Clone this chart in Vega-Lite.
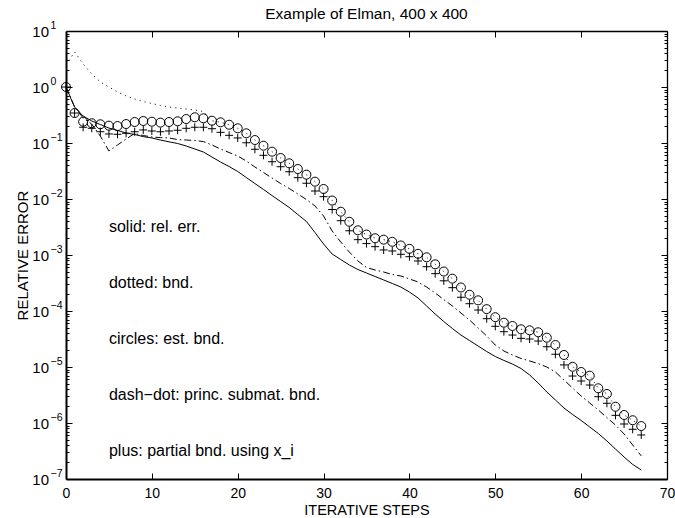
{
  "$schema": "https://vega.github.io/schema/vega-lite/v6.json",
  "width": 601,
  "height": 448,
  "autosize": "none",
  "padding": {"left": 66, "top": 31, "right": 8, "bottom": 39},
  "background": "white",
  "config": {
    "font": "Liberation Sans",
    "view": {"stroke": null},
    "axis": {"grid": false, "labelColor": "black", "tickColor": "black", "domainColor": "black", "titleColor": "black", "labelFont": "Liberation Sans", "titleFont": "Liberation Sans", "titleFontWeight": "normal"}
  },
  "title": {"text": "Example of Elman, 400 x 400", "fontSize": 15.5, "fontWeight": "normal", "font": "Liberation Sans", "frame": "group", "anchor": "middle", "offset": -2, "color": "black"},
  "datasets": {
    "curves": [
      {"s": 0, "rel": 1.0, "bnd": 2.47, "est": 1.0, "pri": 1.0, "par": 1.0},
      {"s": 1, "rel": 0.439, "bnd": 4.22, "est": 0.343, "pri": 0.439, "par": 0.343},
      {"s": 2, "rel": 0.303, "bnd": 2.57, "est": 0.240, "pri": 0.279, "par": 0.191},
      {"s": 3, "rel": 0.247, "bnd": 1.71, "est": 0.225, "pri": 0.218, "par": 0.183},
      {"s": 4, "rel": 0.214, "bnd": 1.23, "est": 0.216, "pri": 0.133, "par": 0.159},
      {"s": 5, "rel": 0.185, "bnd": 1.0, "est": 0.204, "pri": 0.072, "par": 0.145},
      {"s": 6, "rel": 0.167, "bnd": 0.814, "est": 0.201, "pri": 0.0921, "par": 0.143},
      {"s": 7, "rel": 0.151, "bnd": 0.691, "est": 0.218, "pri": 0.118, "par": 0.149},
      {"s": 8, "rel": 0.142, "bnd": 0.611, "est": 0.237, "pri": 0.148, "par": 0.159},
      {"s": 9, "rel": 0.130, "bnd": 0.551, "est": 0.247, "pri": 0.136, "par": 0.171},
      {"s": 10, "rel": 0.123, "bnd": 0.507, "est": 0.240, "pri": 0.128, "par": 0.164},
      {"s": 11, "rel": 0.113, "bnd": 0.467, "est": 0.231, "pri": 0.125, "par": 0.159},
      {"s": 12, "rel": 0.105, "bnd": 0.439, "est": 0.237, "pri": 0.123, "par": 0.164},
      {"s": 13, "rel": 0.098, "bnd": 0.422, "est": 0.244, "pri": 0.115, "par": 0.169},
      {"s": 14, "rel": 0.0884, "bnd": 0.405, "est": 0.268, "pri": 0.113, "par": 0.183},
      {"s": 15, "rel": 0.0781, "bnd": 0.388, "est": 0.288, "pri": 0.111, "par": 0.191},
      {"s": 16, "rel": 0.0691, "bnd": 0.365, "est": 0.276, "pri": 0.106, "par": 0.191},
      {"s": 17, "rel": 0.0562, "bnd": 0.250, "est": 0.250, "pri": 0.0921, "par": 0.180},
      {"s": 18, "rel": 0.0458, "bnd": 0.234, "est": 0.234, "pri": 0.0781, "par": 0.155},
      {"s": 19, "rel": 0.0380, "bnd": 0.212, "est": 0.212, "pri": 0.0676, "par": 0.137},
      {"s": 20, "rel": 0.0310, "bnd": 0.183, "est": 0.183, "pri": 0.0586, "par": 0.123},
      {"s": 21, "rel": 0.0242, "bnd": 0.149, "est": 0.149, "pri": 0.0477, "par": 0.101},
      {"s": 22, "rel": 0.0189, "bnd": 0.113, "est": 0.113, "pri": 0.0373, "par": 0.0772},
      {"s": 23, "rel": 0.0148, "bnd": 0.0895, "est": 0.0895, "pri": 0.0297, "par": 0.0603},
      {"s": 24, "rel": 0.0115, "bnd": 0.0700, "est": 0.0700, "pri": 0.0237, "par": 0.0463},
      {"s": 25, "rel": 0.00902, "bnd": 0.0540, "est": 0.0540, "pri": 0.0189, "par": 0.0377},
      {"s": 26, "rel": 0.00705, "bnd": 0.0434, "est": 0.0434, "pri": 0.0154, "par": 0.0307},
      {"s": 27, "rel": 0.00528, "bnd": 0.0343, "est": 0.0343, "pri": 0.0123, "par": 0.0240},
      {"s": 28, "rel": 0.00397, "bnd": 0.0272, "est": 0.0272, "pri": 0.0098, "par": 0.0191},
      {"s": 29, "rel": 0.00252, "bnd": 0.0204, "est": 0.0204, "pri": 0.0075, "par": 0.0139},
      {"s": 30, "rel": 0.00157, "bnd": 0.0151, "est": 0.0151, "pri": 0.00497, "par": 0.0110},
      {"s": 31, "rel": 0.00104, "bnd": 0.0094, "est": 0.0094, "pri": 0.00268, "par": 0.00649},
      {"s": 32, "rel": 0.000831, "bnd": 0.00593, "est": 0.00593, "pri": 0.00171, "par": 0.00410},
      {"s": 33, "rel": 0.000663, "bnd": 0.00392, "est": 0.00392, "pri": 0.00113, "par": 0.00271},
      {"s": 34, "rel": 0.00055, "bnd": 0.00276, "est": 0.00276, "pri": 0.000782, "par": 0.00188},
      {"s": 35, "rel": 0.000477, "bnd": 0.00232, "est": 0.00232, "pri": 0.000598, "par": 0.00160},
      {"s": 36, "rel": 0.000413, "bnd": 0.00199, "est": 0.00199, "pri": 0.000540, "par": 0.00141},
      {"s": 37, "rel": 0.000358, "bnd": 0.00188, "est": 0.00188, "pri": 0.000497, "par": 0.00123},
      {"s": 38, "rel": 0.000310, "bnd": 0.00172, "est": 0.00172, "pri": 0.000449, "par": 0.00118},
      {"s": 39, "rel": 0.000268, "bnd": 0.00148, "est": 0.00148, "pri": 0.000422, "par": 0.00103},
      {"s": 40, "rel": 0.000218, "bnd": 0.00129, "est": 0.00129, "pri": 0.000373, "par": 0.000933},
      {"s": 41, "rel": 0.000171, "bnd": 0.00105, "est": 0.00105, "pri": 0.000330, "par": 0.000782},
      {"s": 42, "rel": 0.000123, "bnd": 0.000910, "est": 0.000910, "pri": 0.000268, "par": 0.000618},
      {"s": 43, "rel": 0.0000883, "bnd": 0.000682, "est": 0.000682, "pri": 0.000210, "par": 0.000464},
      {"s": 44, "rel": 0.0000649, "bnd": 0.000507, "est": 0.000507, "pri": 0.000160, "par": 0.000346},
      {"s": 45, "rel": 0.0000487, "bnd": 0.000378, "est": 0.000378, "pri": 0.000123, "par": 0.000261},
      {"s": 46, "rel": 0.0000372, "bnd": 0.000263, "est": 0.000263, "pri": 0.0000921, "par": 0.000176},
      {"s": 47, "rel": 0.0000297, "bnd": 0.000195, "est": 0.000195, "pri": 0.0000690, "par": 0.000135},
      {"s": 48, "rel": 0.0000237, "bnd": 0.000155, "est": 0.000155, "pri": 0.0000497, "par": 0.000104},
      {"s": 49, "rel": 0.0000189, "bnd": 0.000108, "est": 0.000108, "pri": 0.0000358, "par": 0.0000729},
      {"s": 50, "rel": 0.0000154, "bnd": 0.0000775, "est": 0.0000775, "pri": 0.0000247, "par": 0.0000533},
      {"s": 51, "rel": 0.0000131, "bnd": 0.0000618, "est": 0.0000618, "pri": 0.0000193, "par": 0.0000427},
      {"s": 52, "rel": 0.0000113, "bnd": 0.0000540, "est": 0.0000540, "pri": 0.0000164, "par": 0.0000372},
      {"s": 53, "rel": 0.0000094, "bnd": 0.0000471, "est": 0.0000471, "pri": 0.0000142, "par": 0.0000325},
      {"s": 54, "rel": 0.0000072, "bnd": 0.0000452, "est": 0.0000452, "pri": 0.0000128, "par": 0.0000316},
      {"s": 55, "rel": 0.00000518, "bnd": 0.0000417, "est": 0.0000417, "pri": 0.0000115, "par": 0.0000291},
      {"s": 56, "rel": 0.00000358, "bnd": 0.0000334, "est": 0.0000334, "pri": 0.0000100, "par": 0.0000230},
      {"s": 57, "rel": 0.00000258, "bnd": 0.0000247, "est": 0.0000247, "pri": 0.00000814, "par": 0.0000169},
      {"s": 58, "rel": 0.00000185, "bnd": 0.0000164, "est": 0.0000164, "pri": 0.00000586, "par": 0.0000109},
      {"s": 59, "rel": 0.00000142, "bnd": 0.0000101, "est": 0.0000101, "pri": 0.00000422, "par": 0.0000069},
      {"s": 60, "rel": 0.00000111, "bnd": 0.00000814, "est": 0.00000814, "pri": 0.00000303, "par": 0.00000562},
      {"s": 61, "rel": 8.49e-7, "bnd": 0.0000070, "est": 0.0000070, "pri": 0.00000228, "par": 0.00000477},
      {"s": 62, "rel": 6.49e-7, "bnd": 0.00000417, "est": 0.00000417, "pri": 0.00000171, "par": 0.00000295},
      {"s": 63, "rel": 4.77e-7, "bnd": 0.0000033, "est": 0.0000033, "pri": 0.00000125, "par": 0.00000225},
      {"s": 64, "rel": 3.43e-7, "bnd": 0.00000195, "est": 0.00000195, "pri": 9.21e-7, "par": 0.00000137},
      {"s": 65, "rel": 2.47e-7, "bnd": 0.00000139, "est": 0.00000139, "pri": 6.37e-7, "par": 9.6e-7},
      {"s": 66, "rel": 1.82e-7, "bnd": 0.00000112, "est": 0.00000112, "pri": 4.05e-7, "par": 7.72e-7},
      {"s": 67, "rel": 1.45e-7, "bnd": 8.83e-7, "est": 8.83e-7, "pri": 2.58e-7, "par": 6.11e-7}
    ],
    "notes": [
      {"s": 5, "v": 0.0031623, "label": "solid: rel. err."},
      {"s": 5, "v": 0.00031623, "label": "dotted: bnd."},
      {"s": 5, "v": 0.000031623, "label": "circles: est. bnd."},
      {"s": 5, "v": 0.0000031623, "label": "dash−dot: princ. submat. bnd."},
      {"s": 5, "v": 3.1623e-7, "label": "plus: partial bnd. using x_i"}
    ]
  },
  "resolve": {"axis": {"x": "independent", "y": "independent"}},
  "layer": [
    {
      "data": {"name": "curves"},
      "mark": {"type": "line", "color": "black", "strokeWidth": 1},
      "encoding": {
        "x": {"field": "s", "type": "quantitative", "scale": {"domain": [0, 70], "nice": false, "zero": false},
          "axis": {"orient": "bottom", "values": [0, 10, 20, 30, 40, 50, 60, 70], "ticks": false, "domain": false, "labelPadding": 18, "labelFontSize": 14, "labelFlush": false, "labelOverlap": false, "labelBaseline": "alphabetic", "format": "d", "title": "ITERATIVE STEPS", "titleFontSize": 14.5, "titleBaseline": "alphabetic", "titleY": 35}},
        "y": {"field": "rel", "type": "quantitative", "scale": {"type": "log", "domain": [1e-7, 10], "nice": false},
          "axis": {"orient": "left", "values": [1e-7, 1e-6, 1e-5, 1e-4, 1e-3, 1e-2, 1e-1, 1, 10], "ticks": false, "domain": false, "labelExpr": "'10'", "labelPadding": 17.5, "labelFontSize": 15, "labelBaseline": "middle", "labelOverlap": false, "title": "RELATIVE ERROR", "titleFontSize": 15, "titleX": -39, "titleBaseline": "alphabetic", "titleAngle": -90}}
      }
    },
    {
      "data": {"name": "curves"},
      "mark": {"type": "line", "color": "#222", "strokeWidth": 1, "strokeDash": [1.2, 4]},
      "encoding": {
        "x": {"field": "s", "type": "quantitative", "scale": {"domain": [0, 70], "nice": false, "zero": false},
          "axis": {"orient": "top", "values": [10, 20, 30, 40, 50, 60], "labels": false, "tickSize": -6, "tickWidth": 1, "domain": true, "domainWidth": 1.3, "title": null}},
        "y": {"field": "bnd", "type": "quantitative", "scale": {"type": "log", "domain": [1e-7, 10], "nice": false},
          "axis": {"orient": "right", "labels": false, "domain": true, "domainWidth": 1.3, "title": null, "tickWidth": 1,
            "values": [1e-7, 2e-7, 3e-7, 4e-7, 5e-7, 6e-7, 7e-7, 8e-7, 9e-7, 1e-6, 2e-6, 3e-6, 4e-6, 5e-6, 6e-6, 7e-6, 8e-6, 9e-6, 1e-5, 2e-5, 3e-5, 4e-5, 5e-5, 6e-5, 7e-5, 8e-5, 9e-5, 1e-4, 2e-4, 3e-4, 4e-4, 5e-4, 6e-4, 7e-4, 8e-4, 9e-4, 0.001, 0.002, 0.003, 0.004, 0.005, 0.006, 0.007, 0.008, 0.009, 0.01, 0.02, 0.03, 0.04, 0.05, 0.06, 0.07, 0.08, 0.09, 0.1, 0.2, 0.3, 0.4, 0.5, 0.6, 0.7, 0.8, 0.9, 1, 2, 3, 4, 5, 6, 7, 8, 9, 10],
            "tickSize": {"condition": {"test": "abs(log(datum.value)/LN10 - round(log(datum.value)/LN10)) < 0.001", "value": -6}, "value": -3}}}
      }
    },
    {
      "data": {"name": "curves"},
      "mark": {"type": "line", "color": "black", "strokeWidth": 1, "strokeDash": [7, 3, 1.5, 3]},
      "encoding": {
        "x": {"field": "s", "type": "quantitative", "scale": {"domain": [0, 70], "nice": false, "zero": false}, "axis": null},
        "y": {"field": "pri", "type": "quantitative", "scale": {"type": "log", "domain": [1e-7, 10], "nice": false},
          "axis": {"orient": "left", "labels": false, "domain": true, "domainWidth": 2, "title": null, "tickWidth": 1,
            "values": [1e-7, 2e-7, 3e-7, 4e-7, 5e-7, 6e-7, 7e-7, 8e-7, 9e-7, 1e-6, 2e-6, 3e-6, 4e-6, 5e-6, 6e-6, 7e-6, 8e-6, 9e-6, 1e-5, 2e-5, 3e-5, 4e-5, 5e-5, 6e-5, 7e-5, 8e-5, 9e-5, 1e-4, 2e-4, 3e-4, 4e-4, 5e-4, 6e-4, 7e-4, 8e-4, 9e-4, 0.001, 0.002, 0.003, 0.004, 0.005, 0.006, 0.007, 0.008, 0.009, 0.01, 0.02, 0.03, 0.04, 0.05, 0.06, 0.07, 0.08, 0.09, 0.1, 0.2, 0.3, 0.4, 0.5, 0.6, 0.7, 0.8, 0.9, 1, 2, 3, 4, 5, 6, 7, 8, 9, 10],
            "tickSize": {"condition": {"test": "abs(log(datum.value)/LN10 - round(log(datum.value)/LN10)) < 0.001", "value": -6}, "value": -3}}}
      }
    },
    {
      "data": {"name": "curves"},
      "mark": {"type": "point", "shape": "circle", "filled": false, "color": "black", "strokeWidth": 1, "size": 81, "opacity": 1},
      "encoding": {
        "x": {"field": "s", "type": "quantitative", "scale": {"domain": [0, 70], "nice": false, "zero": false}, "axis": null},
        "y": {"field": "est", "type": "quantitative", "scale": {"type": "log", "domain": [1e-7, 10], "nice": false},
          "axis": {"orient": "left", "values": [1e-7, 1e-6, 1e-5, 1e-4, 1e-3, 1e-2, 1e-1, 1, 10], "ticks": false, "domain": false, "title": null, "labelExpr": "format(round(log(datum.value)/LN10), 'd')", "labelAlign": "left", "labelPadding": 16, "labelOffset": -6, "labelFontSize": 10.5, "labelBaseline": "middle", "labelOverlap": false}}
      }
    },
    {
      "data": {"name": "curves"},
      "mark": {"type": "point", "shape": "M-1,0L1,0M0,-1L0,1", "filled": false, "color": "black", "strokeWidth": 1, "size": 64, "opacity": 1},
      "encoding": {
        "x": {"field": "s", "type": "quantitative", "scale": {"domain": [0, 70], "nice": false, "zero": false},
          "axis": {"orient": "bottom", "values": [0, 10, 20, 30, 40, 50, 60, 70], "labels": false, "tickSize": -6, "tickWidth": 1, "domain": true, "domainWidth": 2, "title": null}},
        "y": {"field": "par", "type": "quantitative", "scale": {"type": "log", "domain": [1e-7, 10], "nice": false}, "axis": null}
      }
    },
    {
      "data": {"name": "notes"},
      "mark": {"type": "text", "align": "left", "baseline": "middle", "fontSize": 16, "font": "Liberation Sans", "color": "black"},
      "encoding": {
        "x": {"field": "s", "type": "quantitative", "scale": {"domain": [0, 70], "nice": false, "zero": false}, "axis": null},
        "y": {"field": "v", "type": "quantitative", "scale": {"type": "log", "domain": [1e-7, 10], "nice": false}, "axis": null},
        "text": {"field": "label"}
      }
    }
  ]
}
